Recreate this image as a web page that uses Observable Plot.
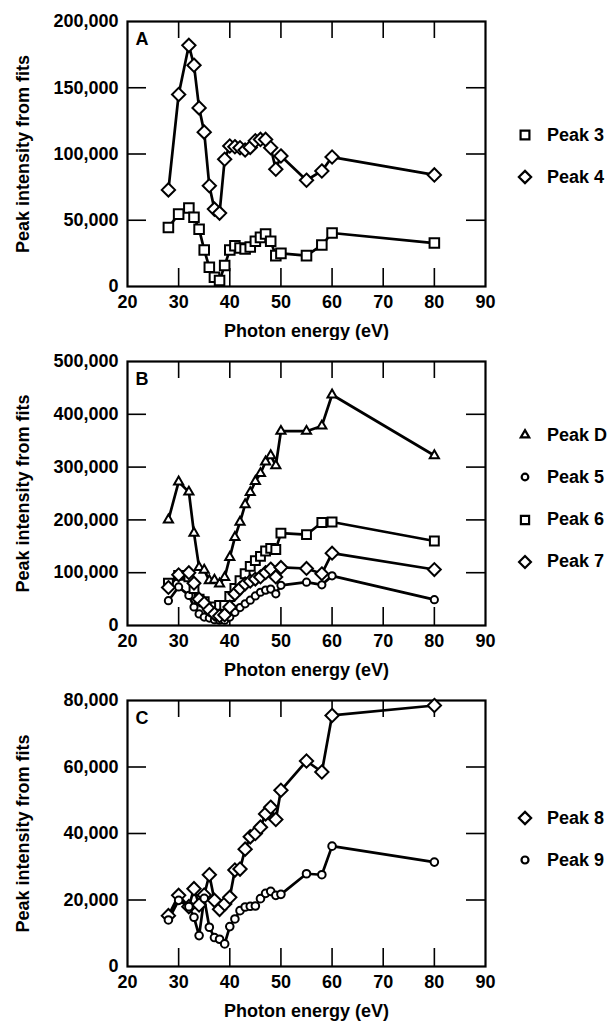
<!DOCTYPE html>
<html><head><meta charset="utf-8">
<script src="https://cdn.jsdelivr.net/npm/d3@7"></script>
<script src="https://cdn.jsdelivr.net/npm/@observablehq/plot@0.6"></script>
<style>
body{margin:0;background:#fff;font-family:"Liberation Sans",Arial,sans-serif;font-weight:bold;color:#000;}
.panel{position:relative;width:610px;}
.legend-item{position:absolute;left:514px;height:22px;display:flex;align-items:center;font-size:18px;white-space:nowrap;}
.legend-item svg{width:22px;height:22px;margin-right:11px;overflow:visible;}
</style></head><body><div id="chart"></div>
<script>
// Photon energies (eV) shared by all series
const energy = [28,30,32,33,34,35,36,37,38,39,40,41,42,43,44,45,46,47,48,49,50,55,58,60,80];

// Panel A
const peak3 = [44500,54600,59300,52300,43200,27600,14500,7000,4500,15800,27600,30800,29100,28300,29800,34100,37100,39600,34100,23300,25000,23300,31300,40400,32800];
const peak4 = [72900,144900,182000,167000,134800,116500,76000,58400,55400,96000,106000,105500,104700,103000,105000,110000,111000,111000,104700,88500,98500,80200,87200,97700,84200];
// Panel B
const peakD = [200000,272000,253000,175000,110000,105000,85000,86000,79000,91000,129000,167000,196000,229000,252000,273000,288000,310000,322000,303000,368000,368000,378000,437000,322000];
const peak5 = [47000,73000,57000,35000,22000,16000,14000,11000,10000,10000,16000,25000,34000,41000,48000,56000,63000,67000,69000,60000,76000,82000,77000,94000,49000];
const peak6 = [80000,95000,92000,70000,50000,45000,33000,35000,38000,38000,55000,70000,85000,98000,112000,123000,131000,141000,146000,144000,175000,172000,195000,196000,160000];
const peak7 = [72000,96000,100000,80000,50000,42000,30000,22000,18000,20000,35000,60000,70000,79000,84000,88000,92000,100000,107000,92000,110000,108000,98000,137000,106000];
// Panel C
const peak8 = [15300,21400,18000,23400,18500,21500,27600,19900,17200,18800,20800,29000,29300,35300,39000,40000,41900,45900,47900,44200,53000,61800,58500,75500,78500];
const peak9 = [14000,19900,18000,14800,9300,20500,11800,8700,8200,6800,12000,14300,16800,17900,18100,18200,20400,22000,22600,21400,21700,27900,27600,36200,31400];

// Axis ticks and labels
const xTicks = [20,30,40,50,60,70,80,90];
const yTicksA = [0,50000,100000,150000,200000];
const yTicksB = [0,100000,200000,300000,400000,500000];
const yTicksC = [0,20000,40000,60000,80000];
const xLabel = "Photon energy (eV)";
const yLabel = "Peak intensity from fits";

const panels = [
  {letter:"A", height:340, mt:21, mb:54, yTicks:yTicksA, legendTop:135, legendGap:42,
   series:[{name:"Peak 3", values:peak3, symbol:"square", r:5.4},
           {name:"Peak 4", values:peak4, symbol:"diamond2", r:6}]},
  {letter:"B", height:340, mt:21, mb:55, yTicks:yTicksB, legendTop:95, legendGap:42.3,
   series:[{name:"Peak D", values:peakD, symbol:"triangle", r:3.4},
           {name:"Peak 5", values:peak5, symbol:"circle", r:3.6},
           {name:"Peak 6", values:peak6, symbol:"square", r:5},
           {name:"Peak 7", values:peak7, symbol:"diamond2", r:5.8}]},
  {letter:"C", height:342, mt:20, mb:56, yTicks:yTicksC, legendTop:138, legendGap:42,
   series:[{name:"Peak 8", values:peak8, symbol:"diamond2", r:6},
           {name:"Peak 9", values:peak9, symbol:"circle", r:3.8}]}
];

const d3Symbols = {square:d3.symbolSquare, diamond2:d3.symbolDiamond2, triangle:d3.symbolTriangle, circle:d3.symbolCircle};
const W = 610, ML = 127, MR = 125;
const chart = document.getElementById("chart");
const fmt = d3.format(",");

for (const p of panels) {
  const plotH = p.height - p.mt - p.mb;
  const plotW = W - ML - MR;
  const innerX = xTicks.slice(1, -1);
  const innerY = p.yTicks.slice(1, -1);
  const marks = [
    Plot.tickX(innerX, {x: d => d, insetTop: plotH - 18, stroke: "black", strokeWidth: 1.6}),
    Plot.tickX(innerX, {x: d => d, insetBottom: plotH - 17, stroke: "black", strokeWidth: 1.6}),
    Plot.tickY(innerY, {y: d => d, insetRight: plotW - 19, stroke: "black", strokeWidth: 1.6}),
    Plot.tickY(innerY, {y: d => d, insetLeft: plotW - 19, stroke: "black", strokeWidth: 1.6}),
    Plot.frame({stroke: "black", strokeWidth: 2.2})
  ];
  for (const s of p.series) {
    const rows = energy.map((e, i) => ({e, v: s.values[i]}));
    marks.push(Plot.line(rows, {x: "e", y: "v", stroke: "black", strokeWidth: 2.7, strokeLinejoin: "round"}));
  }
  for (const s of p.series) {
    const rows = energy.map((e, i) => ({e, v: s.values[i]}));
    marks.push(Plot.dot(rows, {x: "e", y: "v", symbol: () => s.symbol, r: s.r, fill: "white", stroke: "black", strokeWidth: 2}));
  }
  marks.push(
    Plot.text([p.letter], {text: d => d, frameAnchor: "top-left", dx: 8, dy: 11, fontSize: 18, fontWeight: "bold", textAnchor: "start", lineAnchor: "top"}),
    Plot.text([xLabel], {text: d => d, frameAnchor: "bottom", dy: 45, lineAnchor: "middle", fontSize: 18, fontWeight: "bold"}),
    Plot.text([yLabel], {text: d => d, frameAnchor: "left", dx: -104, rotate: -90, textAnchor: "middle", lineAnchor: "middle", fontSize: 18, fontWeight: "bold"})
  );
  const svg = Plot.plot({
    width: W, height: p.height,
    marginLeft: ML, marginRight: MR, marginTop: p.mt, marginBottom: p.mb,
    x: {domain: [20, 90], ticks: xTicks, tickSize: 0, tickPadding: 9, label: null},
    y: {domain: [p.yTicks[0], p.yTicks[p.yTicks.length - 1]], ticks: p.yTicks, tickSize: 0, tickPadding: 9, tickFormat: fmt, label: null},
    symbol: {type: "identity"},
    style: {fontFamily: "'Liberation Sans', Arial, sans-serif", fontSize: "18px", fontWeight: "bold", color: "black", background: "white", overflow: "visible"},
    marks
  });
  const div = document.createElement("div");
  div.className = "panel";
  div.style.height = p.height + "px";
  div.appendChild(svg);
  p.series.forEach((s, i) => {
    const item = document.createElement("div");
    item.className = "legend-item";
    item.style.top = (p.legendTop + i * p.legendGap - 11) + "px";
    const sym = d3.select(item).append("svg").attr("viewBox", "-11 -11 22 22");
    sym.append("path").attr("d", d3.symbol(d3Symbols[s.symbol], Math.PI * s.r * s.r * 0.85)())
      .attr("fill", "white").attr("stroke", "black").attr("stroke-width", 2.2);
    d3.select(item).append("span").text(s.name);
    div.appendChild(item);
  });
  chart.appendChild(div);
}
</script>
</body></html>
